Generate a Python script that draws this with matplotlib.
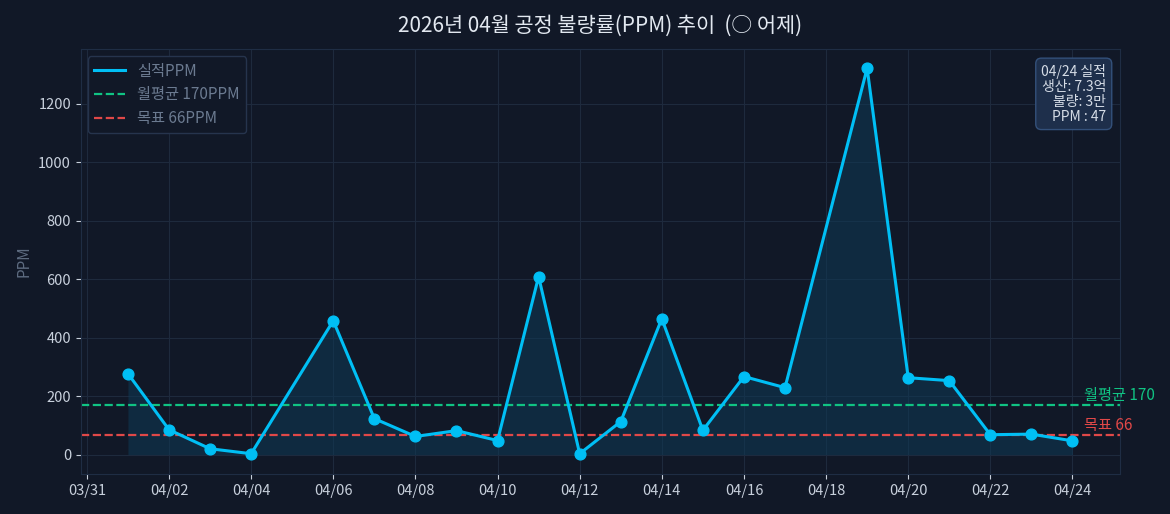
import pandas as pd
import matplotlib.pyplot as plt
import matplotlib.dates as mdates

plt.rcParams['font.family'] = ['Noto Sans CJK KR', 'DejaVu Sans']
plt.rcParams['axes.unicode_minus'] = False

dates = ['2026-04-01', '2026-04-02', '2026-04-03', '2026-04-04', '2026-04-06',
         '2026-04-07', '2026-04-08', '2026-04-09', '2026-04-10', '2026-04-11',
         '2026-04-12', '2026-04-13', '2026-04-14', '2026-04-15', '2026-04-16',
         '2026-04-17', '2026-04-19', '2026-04-20', '2026-04-21', '2026-04-22',
         '2026-04-23', '2026-04-24']
ppm = [277, 85, 20, 3, 458, 123, 62, 82, 48, 609, 3, 113, 465, 83, 267,
       229, 1322, 263, 253, 68, 70, 47]
month_avg = 170
target = 66

BG = '#111827'
GRID = '#1e2a3d'
BLUE = '#00bff5'
GREEN = '#10c383'
RED = '#e04848'

x = pd.to_datetime(dates)

fig, ax = plt.subplots(figsize=(11.7, 5.14), dpi=100)
fig.patch.set_facecolor(BG)
ax.set_facecolor(BG)

ax.fill_between(x, ppm, 0, color='#0f3a55', alpha=0.55, lw=0)
ax.plot(x, ppm, color=BLUE, lw=2.2, label='실적PPM', zorder=3)
ax.scatter(x, ppm, color=BLUE, s=60, zorder=4)
ax.axhline(month_avg, color=GREEN, ls='--', lw=1.6, label=f'월평균 {month_avg}PPM')
ax.axhline(target, color=RED, ls='--', lw=1.6, label=f'목표 {target}PPM')

last = x[-1] + pd.Timedelta(hours=7)
ax.text(last, month_avg + 4, f'월평균 {month_avg}', color=GREEN, fontsize=11,
        va='bottom', ha='left')
ax.text(last, target + 4, f'목표 {target}', color=RED, fontsize=11,
        va='bottom', ha='left')

ax.xaxis.set_major_locator(mdates.DayLocator(bymonthday=[31, 2, 4, 6, 8, 10, 12, 14, 16, 18, 20, 22, 24]))
ax.xaxis.set_major_formatter(mdates.DateFormatter('%m/%d'))
ax.set_yticks([0, 200, 400, 600, 800, 1000, 1200])

ax.grid(True, color=GRID, lw=0.8)
ax.set_axisbelow(True)
for s in ax.spines.values():
    s.set_color('#1f2d44')
ax.tick_params(colors='#c8d0dc', labelsize=10.5)

ax.set_ylabel('PPM', color='#5d6b80', fontsize=11)
ax.set_title('2026년 04월 공정 불량률(PPM) 추이  (○ 어제)', color='#e2e8f0',
             fontsize=15, pad=12)

leg = ax.legend(loc='upper left', facecolor=BG, edgecolor='#26344d', fontsize=11,
                framealpha=1, labelspacing=0.45)
for t in leg.get_texts():
    t.set_color('#6b7a90')

info = '04/24 실적\n생산: 7.3억\n불량: 3만\nPPM : 47'
ax.text(0.987, 0.965, info, transform=ax.transAxes, ha='right', va='top',
        color='#d5dce6', fontsize=10, linespacing=1.1,
        bbox=dict(boxstyle='round,pad=0.4', facecolor='#1e2f4b',
                  edgecolor='#33507a', lw=1))

fig.subplots_adjust(left=0.069, right=0.957, top=0.905, bottom=0.078)
plt.savefig('out.png', facecolor=BG)
